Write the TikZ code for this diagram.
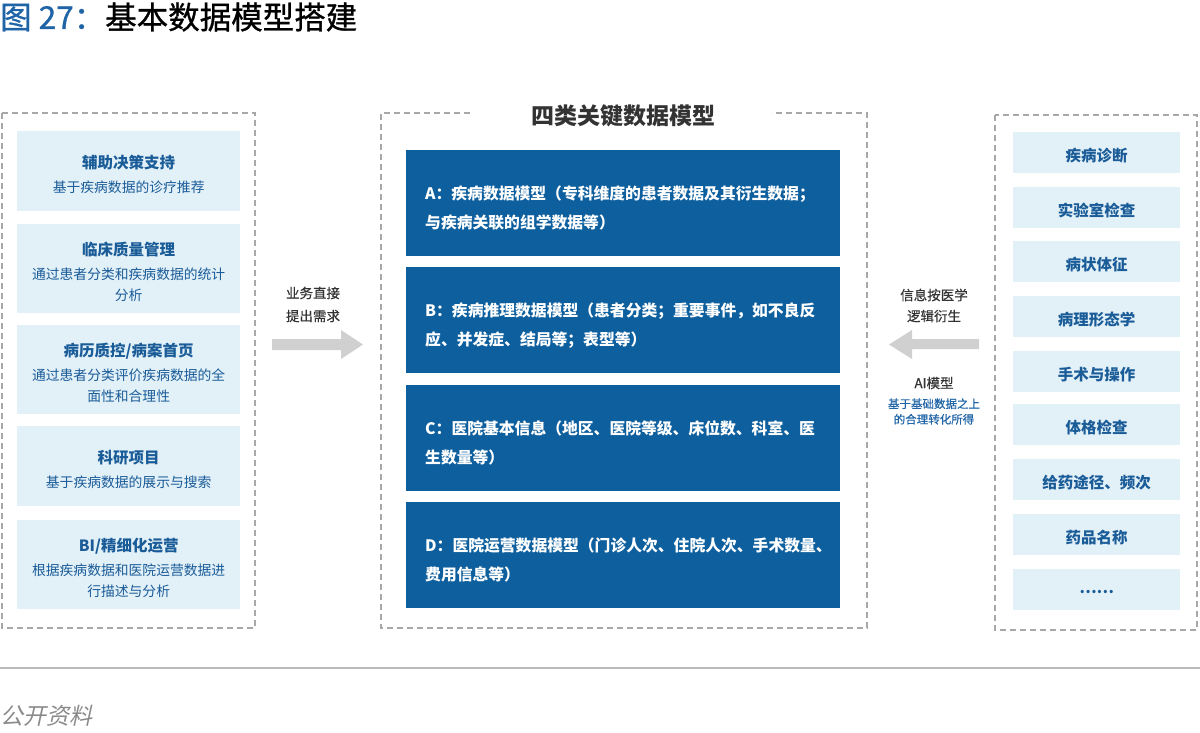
\documentclass[tikz,border=0pt]{standalone}
\usepackage{fontspec}
\setmainfont{Noto Sans CJK SC}
\newfontfamily\slantfont{Noto Sans CJK SC}[FakeSlant=0.22]
\newfontfamily\medfont{Noto Sans CJK SC}[FakeBold=0.9]
\newfontfamily\lmedfont{Noto Sans CJK SC}[FakeBold=0.4]
\definecolor{tblue}{HTML}{1F64A6}
\definecolor{dblue}{HTML}{1A5C98}
\definecolor{lboxc}{HTML}{E2F0F8}
\definecolor{mblue}{HTML}{0E5F9E}
\definecolor{dgray}{HTML}{A8A8A8}
\definecolor{agray}{HTML}{D0D0D0}
\definecolor{tgray}{HTML}{333333}
\definecolor{fgray}{HTML}{8A8A8A}
\definecolor{lgray}{HTML}{BBBBBB}
\begin{document}
\begin{tikzpicture}[x=1pt,y=-1pt,
  frame/.style={draw=dgray, line width=1.3pt, dash pattern=on 6pt off 4pt},
  lbox/.style={fill=lboxc, draw=none, minimum width=223pt, inner sep=0pt, anchor=north west},
  ltext/.style={text width=223pt, align=center, inner sep=0pt, text=dblue,
    font=\fontsize{13.8}{20.5}\selectfont, yshift=-3pt},
  rbox/.style={fill=lboxc, draw=none, minimum width=167pt, minimum height=41pt, anchor=north west, inner sep=0pt},
  rtext/.style={inner sep=0pt, text=dblue, font=\bfseries\fontsize{15.5}{18}\selectfont, yshift=-2.5pt},
  mbox/.style={fill=mblue, draw=none, minimum width=434pt, minimum height=106pt, inner sep=0pt, anchor=north west},
  mtext/.style={text=white, text width=410pt, inner sep=0pt, align=left, anchor=west,
    font=\bfseries\fontsize{15.8}{29}\selectfont, xshift=19pt, yshift=-5pt},
  alabel/.style={align=center, text=tgray, inner sep=0pt},
  blockarrow/.style={fill=agray, draw=none}
]
\useasboundingbox (0,0) rectangle (1200,732);

% title
\node[anchor=west, inner sep=0pt, font=\medfont\fontsize{31.5}{34}\selectfont] (title) at (0,17)
  {\textcolor{tblue}{图 27：}基本数据模型搭建};

% left frame
\draw[frame] (2,113) rectangle (255,628);
\node[lbox, minimum height=80pt] (l1) at (17,131) {};
\node[lbox, minimum height=89pt] (l2) at (17,224) {};
\node[lbox, minimum height=89pt] (l3) at (17,325) {};
\node[lbox, minimum height=80pt] (l4) at (17,426) {};
\node[lbox, minimum height=89pt] (l5) at (17,520) {};
\node[ltext] (l1t) at (l1.center)
  {{\bfseries\fontsize{15.5}{20}\selectfont 辅助决策支持}\\[4pt]基于疾病数据的诊疗推荐};
\node[ltext] (l2t) at (l2.center)
  {{\bfseries\fontsize{15.5}{20}\selectfont 临床质量管理}\\[4pt]通过患者分类和疾病数据的统计\\分析};
\node[ltext] (l3t) at (l3.center)
  {{\bfseries\fontsize{15.5}{20}\selectfont 病历质控/病案首页}\\[4pt]通过患者分类评价疾病数据的全\\面性和合理性};
\node[ltext] (l4t) at (l4.center)
  {{\bfseries\fontsize{15.5}{20}\selectfont 科研项目}\\[4pt]基于疾病数据的展示与搜索};
\node[ltext] (l5t) at (l5.center)
  {{\bfseries\fontsize{15.5}{20}\selectfont BI/精细化运营}\\[4pt]根据疾病数据和医院运营数据进\\行描述与分析};

% left arrow block
\node[alabel, font=\lmedfont\fontsize{13.5}{23}\selectfont] (lab1) at (313,304.5) {业务直接\\提出需求};
\fill[blockarrow] (272,339) -- (341,339) -- (341,330) -- (363,344.5) -- (341,359) -- (341,350) -- (272,350) -- cycle;

% middle frame
\draw[frame] (470,113) -- (381,113) -- (381,628) -- (867,628) -- (867,113) -- (772,113);
\node[inner sep=0pt, text=tgray, font=\bfseries\fontsize{23}{26}\selectfont] (mtitle) at (623,116) {四类关键数据模型};
\node[mbox] (ma) at (406,150) {};
\node[mbox] (mb) at (406,267) {};
\node[mbox] (mc) at (406,385) {};
\node[mbox] (md) at (406,502) {};
\node[mtext] (mat) at (ma.west) {A：疾病数据模型（专科维度的患者数据及其衍生数据；\\与疾病关联的组学数据等）};
\node[mtext] (mbt) at (mb.west) {B：疾病推理数据模型（患者分类；重要事件，如不良反\\应、并发症、结局等；表型等）};
\node[mtext] (mct) at (mc.west) {C：医院基本信息（地区、医院等级、床位数、科室、医\\生数量等）};
\node[mtext] (mdt) at (md.west) {D：医院运营数据模型（门诊人次、住院人次、手术数量、\\费用信息等）};

% right arrow block
\node[alabel, font=\lmedfont\fontsize{13.5}{21}\selectfont] (lab2) at (934,305.5) {信息按医学\\逻辑衍生};
\fill[blockarrow] (979,339) -- (912,339) -- (912,330) -- (889,344.5) -- (912,359) -- (912,349) -- (979,349) -- cycle;
\node[alabel, font=\lmedfont\fontsize{13.5}{16}\selectfont] (lab3) at (934,383) {AI模型};
\node[alabel, text=tblue, font=\lmedfont\fontsize{11.5}{15.5}\selectfont] (lab4) at (934,411.5) {基于基础数据之上\\的合理转化所得};

% right frame
\draw[frame] (995,115) rectangle (1197,630);
\foreach \n/\y/\t in {1/132/疾病诊断, 2/187/实验室检查, 3/241/病状体征, 4/296/病理形态学, 5/351/手术与操作,
                      6/404/体格检查, 7/459/给药途径、频次, 8/514/药品名称, 9/569/……}{
  \node[rbox] (r\n) at (1013,\y) {};
  \node[rtext] (r\n t) at (r\n.center) {\t};
}

% footer
\draw[lgray, line width=1.5pt] (0,668) -- (1200,668);
\node[anchor=west, inner sep=0pt, text=fgray, font=\slantfont\fontsize{23}{25}\selectfont] (src) at (0,716) {公开资料};
\end{tikzpicture}
\end{document}
